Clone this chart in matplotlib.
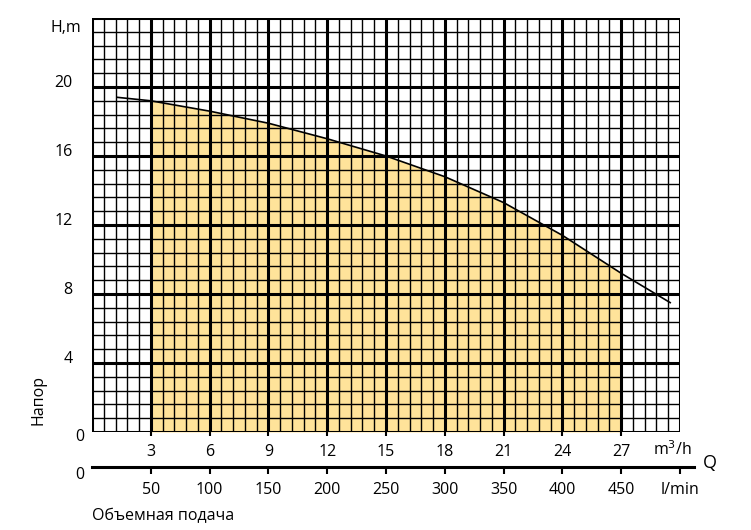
import matplotlib
matplotlib.use("Agg")
import matplotlib.pyplot as plt
import numpy as np

plt.rcParams['font.family'] = ['Open Sans', 'DejaVu Sans']

q_curve = [1.3, 3, 6, 9, 12, 15, 18, 21, 24, 27, 29.5]
h_curve = [19.4, 19.2, 18.6, 17.9, 17.0, 16.0, 14.8, 13.3, 11.4, 9.2, 7.5]
q_ticks = [3, 6, 9, 12, 15, 18, 21, 24, 27]
h_ticks = [4, 8, 12, 16, 20]
lmin_ticks = [50, 100, 150, 200, 250, 300, 350, 400, 450]

W, H = 751, 530
fig = plt.figure(figsize=(7.51, 5.30), dpi=100)
ax = fig.add_axes([92/W, (H-432)/H, 588/W, 414/H])
ax.set_xlim(0, 30); ax.set_ylim(0, 24)

qs = np.array(q_curve); hs = np.array(h_curve)
qq = np.linspace(3, 27, 200)
ax.fill_between(qq, 0, np.interp(qq, qs, hs), color='#FFE39A', zorder=0, lw=0)

for i in range(51):
    ax.axvline(i*0.6, color='black', lw=2.2 if i % 5 == 0 else 1.0, zorder=1)
for i in range(31):
    ax.axhline(i*0.8, color='black', lw=2.2 if i % 5 == 0 else 1.0, zorder=1)
ax.plot(qs, hs, color='black', lw=1.2, zorder=3)

for s in ax.spines.values():
    s.set_visible(False)
ax.set_xticks(q_ticks); ax.set_yticks(h_ticks)
ax.set_xticklabels([str(v) for v in q_ticks], fontsize=11.5)
ax.set_yticklabels([str(v) for v in h_ticks], fontsize=11.5)
ax.tick_params(axis='x', length=3, width=1.5, pad=6)
ax.tick_params(axis='y', length=0, pad=14)
for lbl in ax.get_yticklabels():
    lbl.set_verticalalignment('baseline')

fig.text(80/W, 1-437/H, '0', fontsize=11.5, ha='center', va='center')
fig.text(66/W, 1-28/H, 'H,m', fontsize=11.5, ha='center', va='center')
fig.text(38/W, 1-400/H, 'Напор', fontsize=11.5, ha='center', va='center', rotation=90)
fig.text(672/W, 1-450/H, 'm$^3$/h', fontsize=11.5, ha='center', va='center')
fig.text(710/W, 1-463/H, 'Q', fontsize=13, ha='center', va='center')
fig.text(80/W, 1-475/H, '0', fontsize=11.5, ha='center', va='center')
fig.text(92/W, 1-516/H, 'Объемная подача', fontsize=11.5, ha='left', va='center')

ax2 = fig.add_axes([92/W, (H-467)/H, 588/W, 0.001])
ax2.set_xlim(0, 30); ax2.patch.set_visible(False)
for k in ['top', 'left', 'right']:
    ax2.spines[k].set_visible(False)
ax2.spines['bottom'].set_linewidth(2.2)
ax2.spines['bottom'].set_bounds(0, 30.7)
ax2.spines['bottom'].set_clip_on(False)
ax2.set_yticks([])
ax2.set_xticks([v*60/1000 for v in lmin_ticks] + [30])
ax2.set_xticklabels([str(v) for v in lmin_ticks] + ['l/min'], fontsize=11.5)
ax2.tick_params(axis='x', direction='out', length=5, width=1.5, pad=6)

fig.savefig('out.png', dpi=100)
